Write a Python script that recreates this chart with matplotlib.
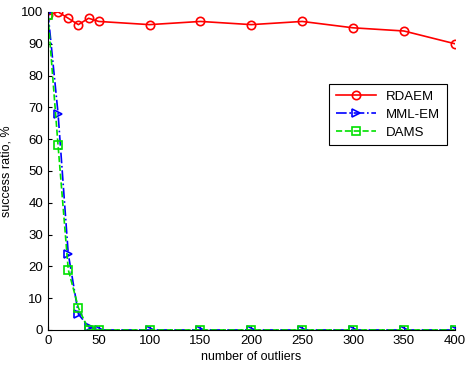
import numpy as np
import matplotlib.pyplot as plt

plt.rcParams['font.family'] = ['Liberation Sans', 'DejaVu Sans']

outliers = [0, 10, 20, 30, 40, 50, 100, 150, 200, 250, 300, 350, 400]
rdaem = [99, 100, 98, 96, 98, 97, 96, 97, 96, 97, 95, 94, 90]
mml_em = [100, 68, 24, 5, 1, 0, 0, 0, 0, 0, 0, 0, 0]
dams = [99, 58, 19, 7, 0, 0, 0, 0, 0, 0, 0, 0, 0]

fig = plt.figure(figsize=(4.65, 3.72), dpi=100)
ax = fig.add_axes([0.103, 0.113, 0.875, 0.855])

ax.plot(outliers, rdaem, '-o', color='red', mfc='none', mec='red', ms=6, mew=1.2, lw=1.2, label='RDAEM')
ax.plot(outliers, mml_em, '-.>', color='blue', mfc='none', mec='blue', ms=6, mew=1.2, lw=1.2, label='MML-EM')
ax.plot(outliers, dams, '--s', color='#00e000', mfc='none', mec='#00e000', ms=6, mew=1.2, lw=1.2, label='DAMS')

ax.set_xlim(0, 400)
ax.set_ylim(0, 100)
ax.set_xticks(np.arange(0, 401, 50))
ax.set_yticks(np.arange(0, 101, 10))
ax.tick_params(direction='in', labelsize=9.5, length=3)
ax.spines['top'].set_visible(False)
ax.spines['right'].set_visible(False)
ax.set_xlabel('number of outliers', fontsize=9, labelpad=3)
ax.set_ylabel('success ratio, %', fontsize=9, labelpad=6)

leg = ax.legend(loc='upper right', bbox_to_anchor=(0.997, 0.795), fontsize=9.5,
                fancybox=False, edgecolor='black', framealpha=1, handlelength=3,
                borderpad=0.5, labelspacing=0.45)
leg.get_frame().set_linewidth(0.8)

fig.savefig('out.png', dpi=100)
